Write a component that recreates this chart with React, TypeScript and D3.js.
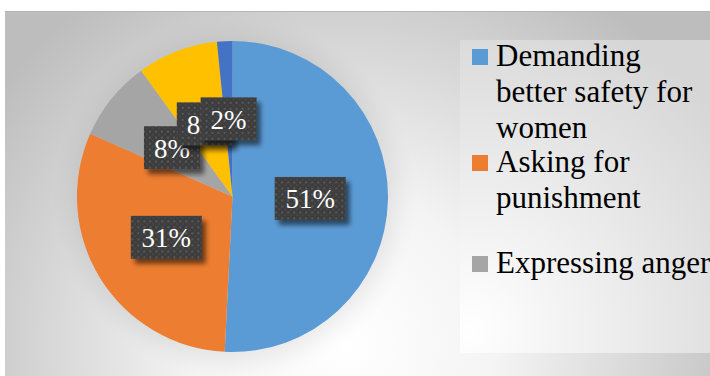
import React from "react";
import * as d3 from "d3";

const categories = [
  "Demanding better safety for women",
  "Asking for punishment",
  "Expressing anger",
  "Other reactions",
  "Other",
];
const values = [50.8, 30.8, 8.4, 8.4, 1.6];
const colors = ["#5B9BD5", "#ED7D31", "#A5A5A5", "#FFC000", "#4472C4"];
const legendLines = [
  ["Demanding", "better safety for", "women"],
  ["Asking for", "punishment"],
  ["Expressing anger"],
];

const W = 710;
const H = 376;
const FONT =
  '"Liberation Serif", "Times New Roman", Times, "Noto Serif", "DejaVu Serif", FreeSerif, "Nimbus Roman", "Nimbus Roman No9 L", Georgia, serif';

export default function App() {
  const cx = 232.5;
  const cy = 196.5;
  const r = 155.5;
  const pie = d3.pie<number>().sort(null).value((d) => d)(values);
  const arc = d3.arc<d3.PieArcDatum<number>>().innerRadius(0).outerRadius(r);
  const fs = 27;
  const labelH = 43;

  const legendX = 472;
  const textX = 496;
  const lineH = 36;
  const legendStarts = [66, 172, 273];

  return (
    <svg
      width={W}
      height={H}
      style={{ position: "absolute", left: 0, top: 0 }}
      xmlns="http://www.w3.org/2000/svg"
    >
      <defs>
        <radialGradient id="bg" gradientUnits="userSpaceOnUse" cx={345} cy={345} r={430}>
          <stop offset="0" stopColor="#ffffff" />
          <stop offset="0.35" stopColor="#f4f4f4" />
          <stop offset="1" stopColor="#bdbdbd" />
        </radialGradient>
        <radialGradient id="lg" gradientUnits="userSpaceOnUse" cx={470} cy={330} r={330}>
          <stop offset="0" stopColor="#ffffff" />
          <stop offset="1" stopColor="#d6d6d6" />
        </radialGradient>
        <pattern id="dots" width={6} height={6} patternUnits="userSpaceOnUse">
          <rect width={6} height={6} fill="#3e3e3e" />
          <rect x={1} y={1} width={2} height={2} fill="#595959" />
          <rect x={4} y={4} width={1.5} height={1.5} fill="#4c4c4c" />
        </pattern>
        <filter id="sh" x="-20%" y="-20%" width="150%" height="160%">
          <feDropShadow dx={4} dy={5} stdDeviation={2.5} floodColor="#000" floodOpacity={0.55} />
        </filter>
        <filter id="pieSh" x="-20%" y="-20%" width="140%" height="140%">
          <feGaussianBlur stdDeviation={12} />
        </filter>
      </defs>
      <rect x={0} y={0} width={W} height={H} fill="#ffffff" />
      <rect x={5} y={11} width={W - 5} height={H - 11} fill="url(#bg)" />
      <line x1={5} x2={W} y1={11.5} y2={11.5} stroke="#b5b5b5" strokeWidth={1} />
      <circle cx={cx + 2} cy={cy + 2} r={r + 6} fill="#000" opacity={0.08} filter="url(#pieSh)" />
      <rect x={460} y={40} width={W - 460} height={313} fill="url(#lg)" />
      <g transform={`translate(${cx},${cy})`}>
        {pie.map((p, i) => (
          <path key={"s" + i} d={arc(p) || ""} fill={colors[i]} />
        ))}
        {pie.map((p, i) => {
          const [lx, ly] = arc.centroid(p);
          const txt = `${Math.round(values[i])}%`;
          const bw = txt.length === 3 ? 71 : 56;
          return (
            <g key={"l" + i} transform={`translate(${lx},${ly})`}>
              <rect
                x={-bw / 2}
                y={-labelH / 2}
                width={bw}
                height={labelH}
                fill="url(#dots)"
                filter="url(#sh)"
              />
              <text
                x={0}
                y={10}
                textAnchor="middle"
                style={{ fontFamily: FONT, fontSize: fs }}
                fill="#ffffff"
              >
                {txt}
              </text>
            </g>
          );
        })}
      </g>
      {legendLines.map((lines, i) => (
        <g key={"lg" + i}>
          <rect
            x={legendX}
            y={legendStarts[i] - 17}
            width={16}
            height={16}
            fill={colors[i]}
          />
          {lines.map((ln, j) => (
            <text
              key={j}
              x={textX}
              y={legendStarts[i] + j * lineH}
              style={{ fontFamily: FONT, fontSize: 31 }}
              fill="#000"
            >
              {ln}
            </text>
          ))}
        </g>
      ))}
    </svg>
  );
}
